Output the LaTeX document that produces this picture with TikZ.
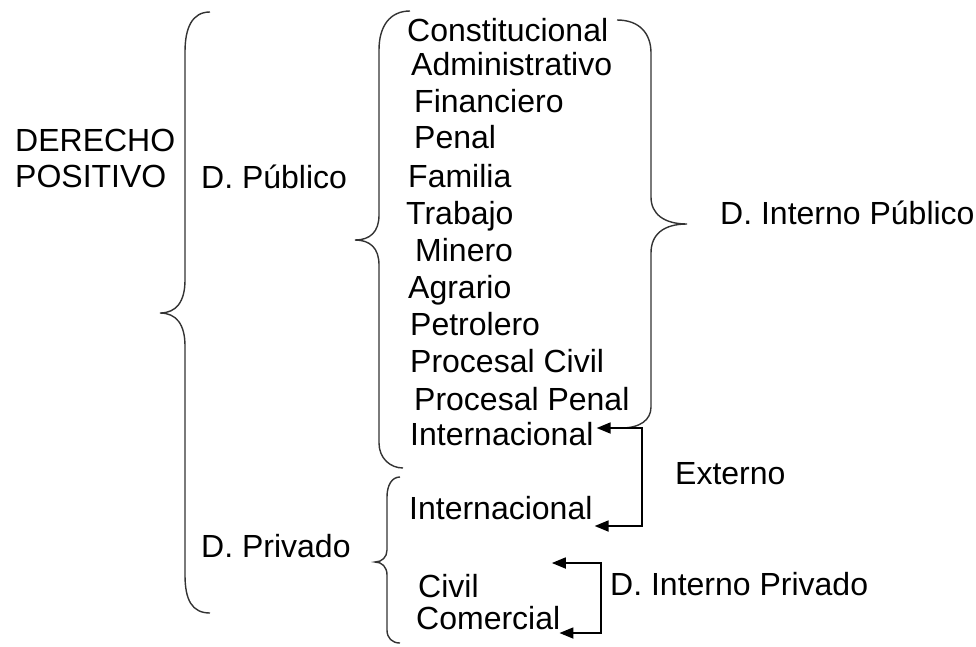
\documentclass[tikz,border=0pt]{standalone}
\usepackage{fontspec}
\setmainfont{Liberation Sans}
\usetikzlibrary{arrows.meta,positioning}

\begin{document}
\begin{tikzpicture}[x=1pt, y=-1pt,
    item/.style={anchor=west, inner sep=0pt, text height=23pt, text depth=0pt, font=\fontsize{32}{38}\selectfont},
    brace/.style={draw=black!80, line width=1.4pt},
    link/.style={{Triangle[length=14pt,width=11pt]}-{Triangle[length=14pt,width=11pt]}, line width=1.8pt}
]
    \useasboundingbox (0,0) rectangle (976,646);

    % Root
    \node[item] (derecho) at (15,140) {DERECHO};
    \node[item] (positivo) at (15,176) {POSITIVO};

    % First level
    \node[item] (publico) at (201,177) {D. Público};
    \node[item] (privado) at (201,546) {D. Privado};

    % Public law branches
    \node[item] (const) at (407,30) {Constitucional};
    \node[item] (admin) at (411,64) {Administrativo};
    \node[item] (finan) at (414,101) {Financiero};
    \node[item] (penal) at (414,137) {Penal};
    \node[item] (famil) at (408,176) {Familia};
    \node[item] (trab) at (406,213) {Trabajo};
    \node[item] (miner) at (415,250) {Minero};
    \node[item] (agrar) at (408,287) {Agrario};
    \node[item] (petro) at (410,324) {Petrolero};
    \node[item] (pcivil) at (410,361) {Procesal Civil};
    \node[item] (ppenal) at (414,399) {Procesal Penal};
    \node[item] (intA) at (410,434) {Internacional};

    % Private law branches
    \node[item] (intB) at (409,508) {Internacional};
    \node[item] (civil) at (418,586) {Civil};
    \node[item] (comer) at (416,618) {Comercial};

    % Groupings
    \node[item] (intpub) at (720,213) {D. Interno Público};
    \node[item] (externo) at (675,473) {Externo};
    \node[item] (intpriv) at (610,584) {D. Interno Privado};

    % Braces
    \draw[brace] (210,12) .. controls (192,12) and (185,28) .. (185,52) -- (185,280)
        .. controls (185,302) and (176,313) .. (160,313)
        .. controls (176,313) and (185,324) .. (185,346) -- (185,575)
        .. controls (185,600) and (192,613) .. (210,613);
    \draw[brace] (410,11) .. controls (390,11) and (379,26) .. (379,50) -- (379,215)
        .. controls (379,232) and (370,240) .. (355,240)
        .. controls (370,240) and (379,248) .. (379,265) -- (379,443)
        .. controls (379,458) and (390,468) .. (403,468);
    \draw[brace] (400,477) .. controls (392,477) and (387,485) .. (387,497) -- (387,550)
        .. controls (387,557) and (382,562) .. (375,562)
        .. controls (382,562) and (387,567) .. (387,575) -- (387,630)
        .. controls (387,638) and (392,643) .. (400,643);
    \draw[brace] (617,20) .. controls (640,20) and (651,34) .. (651,53) -- (651,197)
        .. controls (651,214) and (664,224) .. (687,224)
        .. controls (664,224) and (651,234) .. (651,253) -- (651,407)
        .. controls (651,420) and (640,428) .. (621,428);

    % Arrows
    \draw[link] ([shift={(3,-6)}]intA.east) -- ++(45,0) |- ([shift={(2,18)}]intB.east);
    \draw[link] ([shift={(73,-23)}]civil.east) -- ++(49,0) |- ([shift={(-1,15)}]comer.east);

\end{tikzpicture}
\end{document}
